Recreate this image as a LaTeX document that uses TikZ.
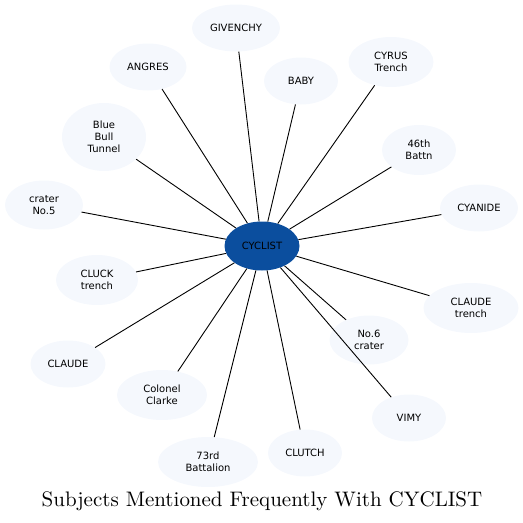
\documentclass[tikz,border=0pt]{standalone}
\usepackage{fontspec}
\newfontfamily\topicfont{DejaVu Sans}
\newfontfamily\titlefont{lmroman10-regular}[Extension=.otf]
\usepackage{xcolor}
\usepackage{tikz}
\usetikzlibrary{shapes.geometric}
\definecolor{hubblue}{RGB}{11,78,158}
\definecolor{topicfill}{RGB}{245,248,253}

\begin{document}
\begin{tikzpicture}[x=1pt, y=-1pt,
      topic/.style={ellipse, fill=topicfill, inner sep=2pt, align=center,
        minimum width=74pt, minimum height=47pt,
        font=\topicfont\fontsize{10}{12}\selectfont},
      hub/.style={topic, fill=hubblue, minimum width=75pt, minimum height=49pt},
      link/.style={line width=0.9pt, black}]
    \useasboundingbox (0,0) rectangle (523,523);
    \node[hub]   (cyclist)  at (262,246) {CYCLIST};
    \node[topic, minimum width=88pt] (givenchy) at (236,28)  {GIVENCHY};
    \node[topic, minimum width=77pt] (angres)   at (148,67)  {ANGRES};
    \node[topic] (baby)     at (301,81)  {BABY};
    \node[topic, minimum width=85pt, minimum height=50pt] (cyrus) at (391,62) {CYRUS\\Trench};
    \node[topic, minimum height=50pt] (battn46) at (419,150) {46th\\Battn};
    \node[topic, minimum width=84pt, minimum height=68pt] (bluebull) at (104,137) {Blue\\Bull\\Tunnel};
    \node[topic, minimum width=78pt, minimum height=49pt] (crater5) at (44,205) {crater\\No.5};
    \node[topic, minimum width=78pt] (cyanide)  at (479,208) {CYANIDE};
    \node[topic, minimum width=82pt, minimum height=50pt] (cluck) at (97,280) {CLUCK\\trench};
    \node[topic, minimum width=95pt, minimum height=50pt] (claudetr) at (471,308) {CLAUDE\\trench};
    \node[topic, minimum width=79pt, minimum height=49pt] (crater6) at (369,340) {No.6\\crater};
    \node[topic, minimum width=75pt] (claude)   at (68,364)  {CLAUDE};
    \node[topic, minimum width=90pt, minimum height=50pt] (clarke) at (162,395) {Colonel\\Clarke};
    \node[topic] (vimy)     at (409,418) {VIMY};
    \node[topic, minimum width=100pt, minimum height=50pt] (battal73) at (208,462) {73rd\\Battalion};
    \node[topic] (clutch)   at (305,453) {CLUTCH};
    \draw[link] (cyclist)--(givenchy);
    \draw[link] (cyclist)--(angres);
    \draw[link] (cyclist)--(baby);
    \draw[link] (cyclist)--(cyrus);
    \draw[link] (cyclist)--(battn46);
    \draw[link] (cyclist)--(bluebull);
    \draw[link] (cyclist)--(crater5);
    \draw[link] (cyclist)--(cyanide);
    \draw[link] (cyclist)--(cluck);
    \draw[link] (cyclist)--(claudetr);
    \draw[link] (cyclist)--(crater6);
    \draw[link] (cyclist)--(claude);
    \draw[link] (cyclist)--(clarke);
    \draw[link] (cyclist)--(vimy);
    \draw[link] (cyclist)--(battal73);
    \draw[link] (cyclist)--(clutch);
    \node[font=\titlefont\fontsize{21}{25}\selectfont] (title) at (262,501) {Subjects Mentioned Frequently With CYCLIST};
  \end{tikzpicture}
\end{document}
